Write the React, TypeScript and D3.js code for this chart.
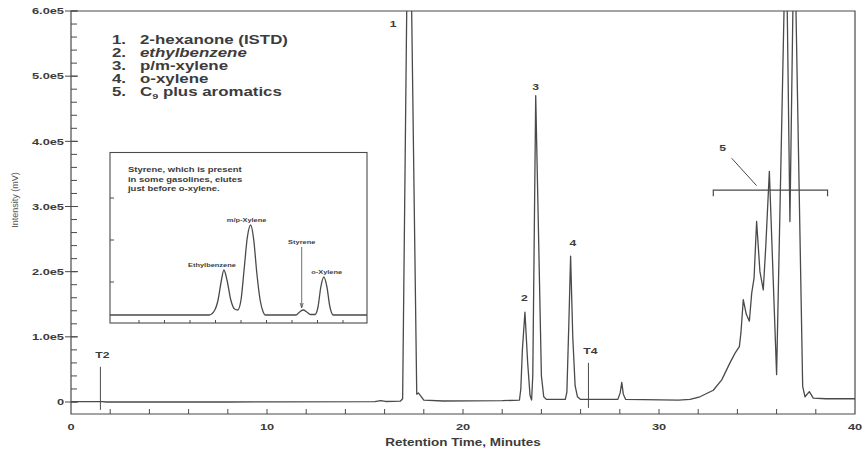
import React, { useEffect, useRef } from 'react'
import * as d3 from 'd3'

const W = 868
const H = 456
const INK = '#4a4a4a'
const TXT = '#3c3c3c'
const SX = 1.35 // the scanned figure is stretched sideways, so is its type

// main trace: [retention time (min), intensity]
const trace: [number, number][] = [
  [0, 600], [1.6, 600], [1.8, 0], [8, 0], [10.5, 300], [15.5, 600], [15.8, 2200], [16.05, 800], [16.8, 1200],
  [16.92, 5000], [17.24, 920000], [17.64, 12000], [17.72, 14000], [17.85, 9000], [18.0, 3000], [19, 1500],
  [22, 2000], [22.88, 3000], [22.95, 20000], [23.03, 80000], [23.16, 138000], [23.3, 60000], [23.42, 10000], [23.5, 3000],
  [23.56, 40000], [23.71, 470000], [24.0, 40000], [24.12, 8000], [24.25, 4000],
  [25.22, 4000], [25.3, 15000], [25.4, 120000], [25.49, 224000], [25.6, 100000], [25.72, 25000], [25.84, 8000], [26.0, 4000],
  [27.9, 4000], [28.02, 14000], [28.1, 30000], [28.18, 12000], [28.3, 4000],
  [31.0, 3000], [31.58, 4000], [32.09, 8000], [32.77, 18000], [33.2, 34000], [33.62, 60000], [33.88, 75000], [34.1, 85000],
  [34.18, 106000], [34.3, 157000], [34.45, 135000], [34.61, 124000], [34.73, 167000], [34.85, 190000], [34.98, 277000],
  [35.15, 200000], [35.32, 172000], [35.45, 240000], [35.63, 354000],
  [36.0, 42000], [36.48, 750000], [36.68, 277000], [36.9, 750000], [37.33, 24000], [37.45, 8000], [37.67, 16000],
  [37.87, 6000], [38.5, 5000], [40, 5000],
]

const yMajor = [0, 1e5, 2e5, 3e5, 4e5, 5e5, 6e5]
const yLabels = ['0', '1.0e5', '2.0e5', '3.0e5', '4.0e5', '5.0e5', '6.0e5']
const yMinor = d3.range(0, 6e5 + 1, 2e4)
const xMajor = [0, 10, 20, 30, 40]
const xMinor = d3.range(2, 40, 2)

// peak numbers: [label, time, intensity]
const peakNums: [string, number, number][] = [
  ['1', 16.43, 580000], ['2', 23.13, 160000], ['3', 23.71, 483000], ['4', 25.6, 244000],
]
// time markers: [label, time, top, bottom]
const markers: [string, number, number, number][] = [
  ['T2', 1.5, 54000, -12000], ['T4', 26.4, 60000, -9000],
]
// C9 bracket: [from, to, level]
const bracket = [32.77, 38.6, 325000]

const legendNums = ['1.', '2.', '3.', '4.', '5.']
const legendNames = ['2-hexanone (ISTD)', 'ethylbenzene', 'p/m-xylene', 'o-xylene', 'C9 plus aromatics']

// inset trace: [position, relative response]
const insetTrace: [number, number][] = [
  [-0.14, 0], [3.75, 0], [3.95, 4], [4.1, 15], [4.22, 33], [4.33, 45], [4.45, 35], [4.6, 15], [4.75, 6], [4.87, 5],
  [5.0, 15], [5.12, 45], [5.25, 78], [5.38, 90], [5.5, 75], [5.62, 42], [5.75, 15], [5.87, 3], [5.95, 0],
  [7.15, 0], [7.3, 3], [7.44, 5], [7.58, 3], [7.72, 0.5], [7.9, 0.5], [8.02, 8], [8.13, 28], [8.25, 38],
  [8.37, 28], [8.48, 9], [8.62, 0], [9.94, 0],
]
const insetNames: [string, number, number][] = [
  ['Ethylbenzene', 3.86, 50], ['m/p-Xylene', 5.22, 95], ['Styrene', 7.38, 73], ['o-Xylene', 8.36, 43],
]
const insetNote = ['Styrene, which is present', 'in some gasolines, elutes', 'just before o-xylene.']
const insetYTicks = [33, 75, 117]

const put = (sel: any, x: number, y: number, str: string, size: number, anchor = 'start', weight = 'bold', style = 'normal') =>
  sel.append('text')
    .attr('transform', `translate(${x},${y}) scale(${SX},1)`)
    .attr('text-anchor', anchor)
    .attr('dy', '0.35em')
    .attr('fill', TXT)
    .style('font-size', size + 'px')
    .style('font-weight', weight)
    .style('font-style', style)
    .text(str)

const App = () => {
  const svgRef = useRef<SVGSVGElement>(null)

  useEffect(() => {
    const svg = d3.select(svgRef.current)
    svg.selectAll('*').remove()
    svg.attr('width', W).attr('height', H)
      .style('font-family', 'Liberation Sans, Arial, sans-serif')
      .style('background', '#fff')

    const x = d3.scaleLinear().domain([0, 40]).range([71, 855])
    const y = d3.scaleLinear().domain([0, 6e5]).range([402, 11])
    const bottom = 414
    const [x0, x1] = x.range()
    const top = y(6e5)

    // frame
    svg.append('path')
      .attr('d', `M${x0},${top}H${x1}V${bottom}H${x0}Z`)
      .attr('fill', 'none').attr('stroke', INK).attr('stroke-width', 1.2)

    // y ticks
    svg.append('g').selectAll('line').data(yMinor).join('line')
      .attr('x1', x0).attr('x2', x0 + 6)
      .attr('y1', d => y(d)).attr('y2', d => y(d))
      .attr('stroke', INK)
    svg.append('g').selectAll('line').data(yMajor).join('line')
      .attr('x1', x0 - 6).attr('x2', x0 + 7)
      .attr('y1', d => y(d)).attr('y2', d => y(d))
      .attr('stroke', INK)
    yMajor.forEach((d, i) => put(svg, x0 - 7, y(d), yLabels[i], 9.5, 'end'))

    // x ticks along the lower frame
    svg.append('g').selectAll('line').data(xMinor).join('line')
      .attr('x1', d => x(d)).attr('x2', d => x(d))
      .attr('y1', bottom).attr('y2', bottom - 5)
      .attr('stroke', INK)
    xMajor.forEach(d => put(svg, x(d), 427, String(d), 9.5, 'middle'))

    put(svg, (x0 + x1) / 2, 442, 'Retention Time, Minutes', 10, 'middle')
    svg.append('text')
      .attr('transform', `translate(15,200) rotate(-90)`)
      .attr('text-anchor', 'middle').attr('dy', '0.35em')
      .attr('fill', '#555')
      .style('font-size', '9px')
      .text('Intensity (mV)')

    // trace
    svg.append('clipPath').attr('id', 'plot')
      .append('rect').attr('x', x0).attr('y', top).attr('width', x1 - x0).attr('height', bottom - top)
    const line = d3.line<[number, number]>().x(d => x(d[0])).y(d => y(d[1]))
    svg.append('path')
      .datum(trace)
      .attr('clip-path', 'url(#plot)')
      .attr('d', line)
      .attr('fill', 'none').attr('stroke', INK).attr('stroke-width', 1.3)
      .attr('stroke-linejoin', 'round')

    // peak numbers
    peakNums.forEach(([s, t, v]) => put(svg, x(t), y(v), s, 9, 'middle'))

    // T markers
    markers.forEach(([s, t, a, b]) => {
      svg.append('line')
        .attr('x1', x(t)).attr('x2', x(t)).attr('y1', y(a)).attr('y2', y(b))
        .attr('stroke', INK)
      put(svg, x(t) + 2, y(a) - 12, s, 9, 'middle')
    })

    // bracket for peak group 5
    const [b0, b1, bl] = bracket
    svg.append('path')
      .attr('d', `M${x(b0)},${y(bl) + 6}V${y(bl)}H${x(b1)}V${y(bl) + 6}`)
      .attr('fill', 'none').attr('stroke', INK).attr('stroke-width', 1.2)
    svg.append('line')
      .attr('x1', x(33.71)).attr('y1', y(374000))
      .attr('x2', x(34.98)).attr('y2', y(332000))
      .attr('stroke', INK)
    put(svg, x(33.25), y(390000), '5', 9, 'middle')

    // legend
    const leg = svg.append('g')
    legendNums.forEach((n, i) => {
      const ly = 40 + 13 * i
      put(leg, 112, ly, n, 12.5)
      if (i === 4) {
        const t = leg.append('text')
          .attr('transform', `translate(140,${ly}) scale(${SX},1)`)
          .attr('dy', '0.35em').attr('fill', TXT)
          .style('font-size', '12.5px').style('font-weight', 'bold')
        t.append('tspan').text('C')
        t.append('tspan').attr('dy', 3).style('font-size', '8px').text('9')
        t.append('tspan').attr('dy', -3).text(' plus aromatics')
      } else {
        put(leg, 140, ly, legendNames[i], 12.5, 'start', 'bold', i === 1 ? 'italic' : 'normal')
      }
    })

    // inset
    const ix = d3.scaleLinear().domain([0, 10]).range([113.5, 368.5])
    const iy = d3.scaleLinear().domain([0, 100]).range([315, 215])
    const box = { l: 110, t: 152.5, r: 367, b: 323 }
    const ins = svg.append('g')
    ins.append('rect')
      .attr('x', box.l).attr('y', box.t).attr('width', box.r - box.l).attr('height', box.b - box.t)
      .attr('fill', '#fff').attr('stroke', INK).attr('stroke-width', 1.1)
    ins.append('g').selectAll('line').data(d3.range(1, 10)).join('line')
      .attr('x1', d => ix(d)).attr('x2', d => ix(d))
      .attr('y1', box.b).attr('y2', box.b - 3)
      .attr('stroke', INK)
    ins.append('g').selectAll('line').data(insetYTicks).join('line')
      .attr('x1', box.l).attr('x2', box.l + 4)
      .attr('y1', d => iy(d)).attr('y2', d => iy(d))
      .attr('stroke', INK)
    const iline = d3.line<[number, number]>().x(d => ix(d[0])).y(d => iy(d[1])).curve(d3.curveMonotoneX)
    ins.append('path')
      .datum(insetTrace)
      .attr('d', iline)
      .attr('fill', 'none').attr('stroke', INK).attr('stroke-width', 1.3)
    insetNote.forEach((s, i) => put(ins, 128, 170 + 9.5 * i, s, 7))
    insetNames.forEach(([s, u, v]) => put(ins, ix(u), iy(v), s, 5.5, 'middle'))
    // styrene arrow
    ins.append('line')
      .attr('x1', ix(7.38)).attr('x2', ix(7.38))
      .attr('y1', iy(68)).attr('y2', iy(8))
      .attr('stroke', INK).attr('stroke-width', 0.8)
    ins.append('path')
      .attr('d', `M${ix(7.38) - 1.5},${iy(12)}L${ix(7.38)},${iy(7)}L${ix(7.38) + 1.5},${iy(12)}`)
      .attr('fill', 'none').attr('stroke', INK).attr('stroke-width', 0.8)
  }, [])

  return <svg ref={svgRef} style={{ position: 'absolute', left: 0, top: 0 }}></svg>
}

export default App
